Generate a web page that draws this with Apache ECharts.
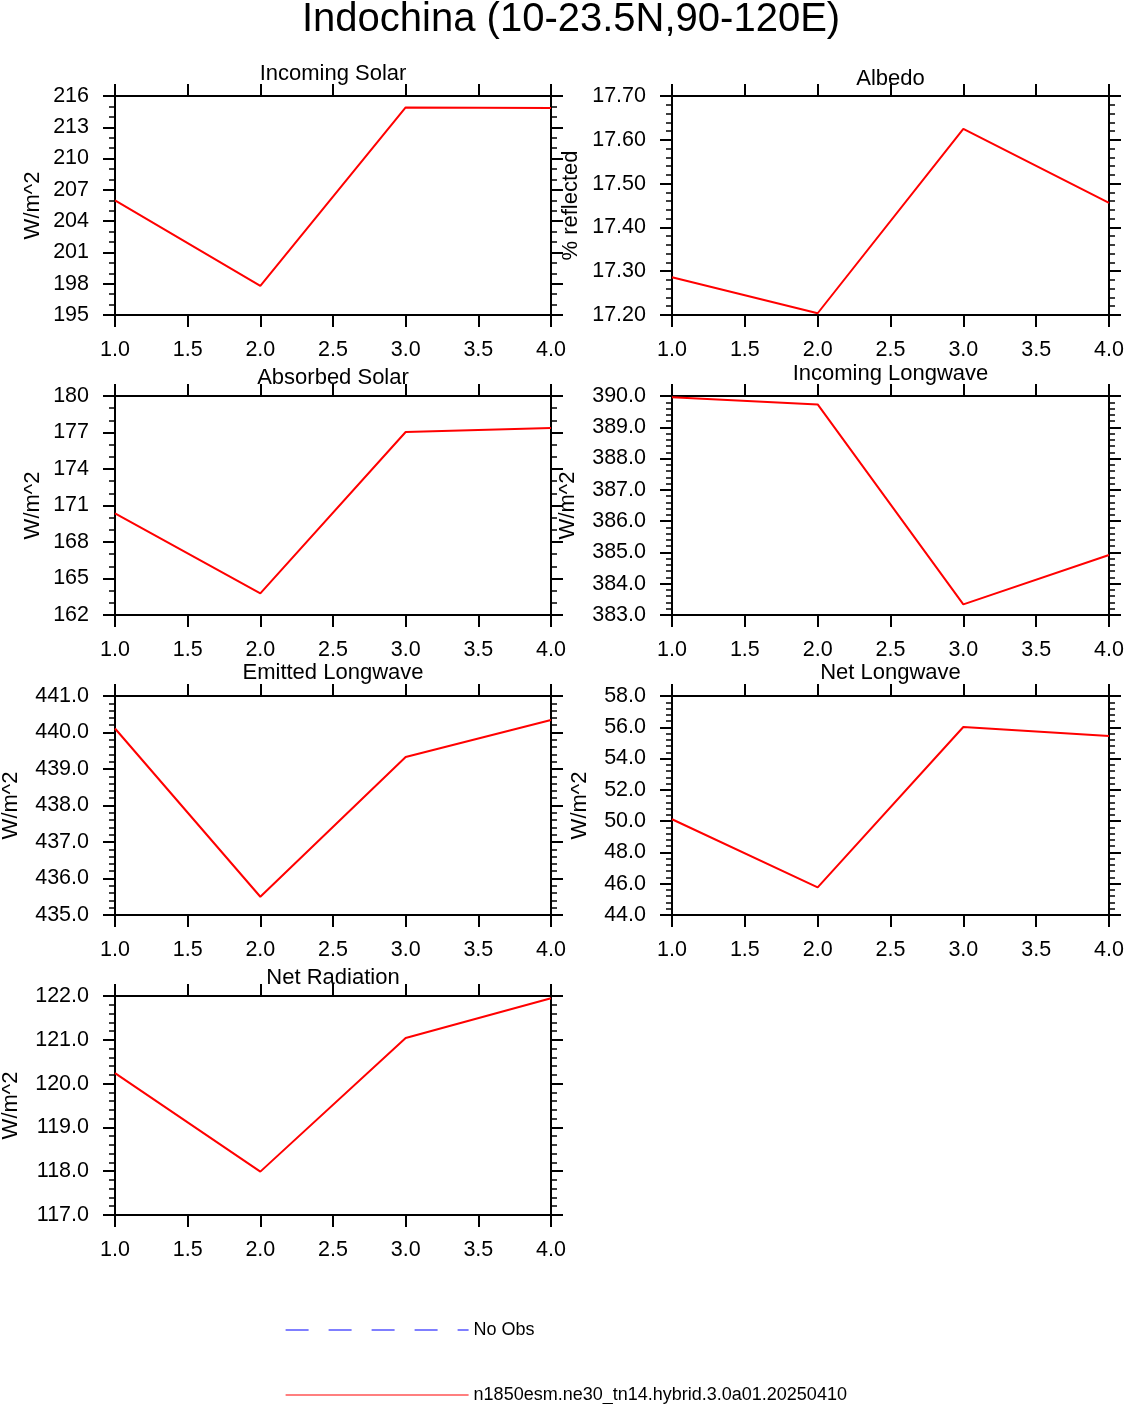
<!DOCTYPE html>
<html>
<head>
<meta charset="utf-8">
<script src="https://cdn.jsdelivr.net/npm/echarts@6/dist/echarts.min.js"></script>
<style>
html,body{margin:0;padding:0;background:#fff;}
#chart{width:1124px;height:1404px;}
</style>
</head>
<body>
<div id="chart"></div>
<script>
// ---- data ----
const mainTitle = 'Indochina (10-23.5N,90-120E)';
const caseName = 'n1850esm.ne30_tn14.hybrid.3.0a01.20250410';
const obsName = 'No Obs';
const xValues = [1, 2, 3, 4];
const panelTitles = ['Incoming Solar', 'Albedo', 'Absorbed Solar', 'Incoming Longwave', 'Emitted Longwave', 'Net Longwave', 'Net Radiation'];
const unitLabels = ['W/m^2', '% reflected', 'W/m^2', 'W/m^2', 'W/m^2', 'W/m^2', 'W/m^2'];
const incomingSolar = [206.0, 197.8, 214.9, 214.85];
const albedo = [17.286, 17.204, 17.625, 17.456];
const absorbedSolar = [170.36, 163.78, 177.04, 177.37];
const incomingLongwave = [389.96, 389.73, 383.34, 384.92];
const emittedLongwave = [440.11, 435.50, 439.33, 440.34];
const netLongwave = [50.12, 45.77, 56.02, 55.44];
const netRadiation = [120.24, 117.99, 121.04, 121.95];
const yMins = [195, 17.20, 162, 383, 435, 44, 117];
const yMaxs = [216, 17.70, 180, 390, 441, 58, 122];
const yIntervals = [3, 0.10, 3, 1, 1, 2, 1];
const yDecimals = [0, 2, 0, 1, 1, 1, 1];
const yMinorSplits = [3, 5, 3, 5, 5, 5, 5];
const xTickMin = 1, xTickMax = 4, xTickStep = 0.5;
const seriesValues = [incomingSolar, albedo, absorbedSolar, incomingLongwave, emittedLongwave, netLongwave, netRadiation];

// ---- layout ----
const colLeft = [115, 672];
const colWidth = [436, 437];
const rowTop = [96, 396, 696, 996];
const plotH = 219;
const titleTops = [63, 68, 367, 363, 662, 662, 967];
const nameGaps = [71, 90, 71, 93, 93, 81, 93];
const FONT = 'Liberation Sans';

const grids = [], xAxes = [], yAxes = [], series = [], titles = [];
titles.push({
  text: mainTitle, left: 302, top: 0, padding: 0,
  textStyle: {fontFamily: FONT, fontSize: 40, fontWeight: 'normal', color: '#000'}
});
const axisLine = {show: true, onZero: false, lineStyle: {color: '#000', width: 2}};
for (let i = 0; i < 7; i++) {
  const c = i % 2, r = Math.floor(i / 2);
  grids.push({left: colLeft[c], top: rowTop[r], width: colWidth[c], height: plotH,
    containLabel: false, outerBoundsMode: 'none'});
  titles.push({
    text: panelTitles[i], left: colLeft[c] + colWidth[c] / 2, textAlign: 'center', top: titleTops[i], padding: 0,
    textStyle: {fontFamily: FONT, fontSize: 22, fontWeight: 'normal', color: '#000'}
  });
  xAxes.push({
    gridIndex: i, type: 'value', position: 'bottom', min: xTickMin, max: xTickMax, interval: xTickStep,
    axisLine: axisLine, splitLine: {show: false},
    axisTick: {show: true, inside: false, length: 12, lineStyle: {color: '#000', width: 2}},
    axisLabel: {show: true, margin: 24, fontFamily: FONT, fontSize: 21.5, color: '#000',
      showMinLabel: true, showMaxLabel: true, formatter: v => v.toFixed(1)}
  });
  xAxes.push({
    gridIndex: i, type: 'value', position: 'top', min: xTickMin, max: xTickMax, interval: xTickStep,
    axisLine: axisLine, splitLine: {show: false},
    axisTick: {show: true, inside: false, length: 12, lineStyle: {color: '#000', width: 2}},
    axisLabel: {show: false}
  });
  const yCommon = {
    gridIndex: i, type: 'value', min: yMins[i], max: yMaxs[i], interval: yIntervals[i],
    axisLine: axisLine, splitLine: {show: false}, minorSplitLine: {show: false},
    axisTick: {show: true, inside: false, length: 12, lineStyle: {color: '#000', width: 2}},
    minorTick: {show: true, splitNumber: yMinorSplits[i], length: 6, lineStyle: {color: '#000', width: 1.5}}
  };
  const dec = yDecimals[i];
  yAxes.push(Object.assign({}, yCommon, {
    position: 'left',
    name: unitLabels[i], nameLocation: 'middle', nameRotate: 90, nameGap: nameGaps[i],
    nameTextStyle: {fontFamily: FONT, fontSize: 22, color: '#000'},
    axisLabel: {show: true, margin: 26, fontFamily: FONT, fontSize: 21.5, color: '#000',
      showMinLabel: true, showMaxLabel: true, formatter: v => v.toFixed(dec)}
  }));
  yAxes.push(Object.assign({}, yCommon, {position: 'right', axisLabel: {show: false}}));
  series.push({
    name: caseName, type: 'line', xAxisIndex: 2 * i, yAxisIndex: 2 * i,
    data: xValues.map((x, k) => [x, seriesValues[i][k]]),
    symbol: 'none', lineStyle: {color: '#ff0000', width: 2}, itemStyle: {color: '#ff0000'},
    animation: false, silent: true
  });
}
series.push({
  name: obsName, type: 'line', xAxisIndex: 0, yAxisIndex: 0, data: [],
  symbol: 'none', lineStyle: {color: '#0000ff', width: 1.2, type: [23, 20]}, itemStyle: {color: '#0000ff'},
  animation: false
});

const legendCommon = {
  orient: 'vertical', left: 285, itemWidth: 183, itemHeight: 14, padding: 0, selectedMode: false,
  itemStyle: {color: 'rgba(0,0,0,0)', borderColor: 'rgba(0,0,0,0)', borderWidth: 0},
  textStyle: {fontFamily: FONT, fontSize: 18, color: '#000'}
};
const legends = [
  Object.assign({}, legendCommon, {top: 1321, data: [obsName],
    lineStyle: {color: '#0000ff', width: 1.2, type: [23, 20]}}),
  Object.assign({}, legendCommon, {top: 1386, data: [caseName],
    lineStyle: {color: '#ff0000', width: 1.2}})
];

const chart = echarts.init(document.getElementById('chart'), null, {renderer: 'canvas'});
chart.setOption({
  backgroundColor: '#fff',
  animation: false,
  title: titles,
  grid: grids,
  xAxis: xAxes,
  yAxis: yAxes,
  legend: legends,
  series: series
});
</script>
</body>
</html>
